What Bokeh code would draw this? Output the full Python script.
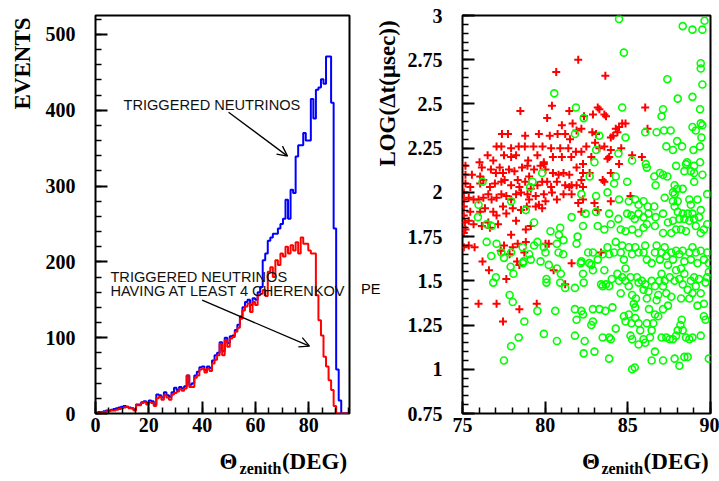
import math
from bokeh.plotting import figure
from bokeh.layouts import row
from bokeh.models import (Label, Arrow, OpenHead, FixedTicker, Range1d, NumeralTickFormatter,
                          LinearAxis)
from bokeh.embed import file_html
from bokeh.resources import INLINE

# ---------------- data: left histogram (bin width 0.95 deg, 100 bins) ----------------
bin_width = 0.95
blue_counts = [1, 2, 2, 3, 4, 4, 5, 6, 7, 8,
               9, 10, 9, 8, 7, 5, 12, 12, 15, 16,
               14, 17, 16, 12, 25, 24, 21, 28, 24, 22,
               28, 34, 31, 35, 33, 36, 50, 38, 40, 50,
               55, 61, 62, 57, 62, 60, 70, 77, 80, 94,
               82, 100, 93, 102, 103, 110, 117, 128, 140, 147,
               150, 143, 152, 150, 160, 167, 202, 211, 228, 232,
               237, 237, 244, 250, 257, 282, 257, 295, 291, 339,
               354, 354, 370, 360, 360, 415, 389, 427, 430, 441,
               435, 471, 471, 410, 244, 58, 17, 0, 0, 0]
red_counts = [1, 1, 2, 2, 3, 3, 4, 4, 5, 6,
              7, 8, 9, 7, 7, 4, 11, 11, 14, 15,
              12, 15, 14, 10, 20, 22, 18, 24, 21, 18,
              25, 27, 29, 32, 30, 33, 50, 35, 35, 47,
              50, 58, 59, 54, 59, 56, 66, 71, 77, 92,
              77, 97, 88, 99, 101, 108, 113, 125, 136, 141,
              145, 134, 147, 143, 156, 158, 163, 155, 187, 193,
              180, 202, 196, 211, 207, 220, 211, 222, 215, 226,
              211, 232, 224, 224, 215, 211, 211, 156, 123, 103,
              75, 62, 44, 31, 10, 0, 0, 0, 0, 0]
hist_x_ticks = [0, 20, 40, 60, 80]
hist_y_ticks = [0, 100, 200, 300, 400, 500]

# ---------------- data: right scatter ----------------
red_theta = [82.00, 80.67, 83.64, 80.41, 78.50, 80.12, 81.01, 81.66, 83.18, 83.28,
             83.58, 83.68, 86.05, 86.19, 82.89, 82.35, 84.27, 84.47, 84.66, 84.86,
             77.39, 77.75, 78.79, 79.62, 80.28, 80.75, 81.21, 81.90, 82.19, 82.85,
             83.08, 83.97, 84.11, 84.37, 81.50, 83.02, 77.06, 77.35, 77.94, 78.40,
             78.77, 79.29, 79.84, 80.36, 80.91, 81.40, 81.86, 82.19, 82.49, 83.28,
             83.58, 83.97, 83.87, 85.26, 85.85, 76.52, 77.51, 76.86, 77.94, 78.24,
             78.97, 79.53, 79.92, 80.47, 81.01, 81.58, 82.29, 82.79, 83.77, 84.47,
             76.03, 76.17, 75.18, 75.18, 75.57, 76.07, 76.72, 77.02, 77.25, 77.45,
             77.81, 78.14, 78.60, 78.93, 79.03, 79.33, 79.72, 79.92, 80.02, 80.47,
             80.81, 81.11, 81.46, 81.90, 82.29, 82.69, 83.97, 83.48, 83.58, 75.18,
             75.47, 76.07, 76.26, 76.66, 76.96, 77.35, 77.55, 77.94, 78.34, 78.44,
             78.79, 79.13, 79.53, 79.82, 80.12, 80.36, 80.71, 81.21, 81.46, 81.60,
             81.90, 82.19, 82.29, 75.08, 75.08, 75.38, 75.67, 75.97, 76.26, 76.56,
             76.76, 77.06, 77.35, 77.65, 77.94, 78.24, 78.54, 78.93, 79.03, 79.43,
             79.92, 80.02, 80.41, 80.71, 81.11, 81.60, 82.00, 82.29, 82.98, 83.18,
             83.97, 82.19, 75.08, 75.08, 75.47, 76.07, 76.36, 76.86, 77.06, 77.45,
             77.65, 78.04, 78.54, 78.89, 79.43, 79.62, 79.82, 75.14, 75.38, 75.67,
             76.17, 76.56, 76.66, 77.15, 77.94, 78.83, 79.13, 78.24, 75.08, 75.18,
             75.08, 75.38, 75.73, 76.21, 76.60, 77.31, 77.51, 77.85, 78.04, 78.30,
             78.34, 78.44, 78.74, 78.83, 80.02, 80.22, 80.51, 81.60, 81.21, 83.38,
             77.65, 75.97, 77.06, 78.44, 79.49, 77.45, 84.60, 85.16, 81.46]
red_logdt = [2.75, 2.68, 2.66, 2.49, 2.46, 2.42, 2.38, 2.39, 2.48, 2.47,
             2.44, 2.43, 2.48, 2.36, 2.44, 2.43, 2.36, 2.37, 2.39, 2.39,
             2.33, 2.33, 2.32, 2.33, 2.32, 2.33, 2.33, 2.35, 2.36, 2.34,
             2.33, 2.31, 2.32, 2.34, 2.30, 2.28, 2.26, 2.26, 2.25, 2.26,
             2.26, 2.26, 2.26, 2.25, 2.25, 2.25, 2.23, 2.23, 2.26, 2.25,
             2.26, 2.24, 2.20, 2.21, 2.20, 2.21, 2.21, 2.18, 2.20, 2.21,
             2.18, 2.21, 2.17, 2.20, 2.20, 2.20, 2.16, 2.20, 2.19, 2.16,
             2.17, 2.14, 2.15, 2.10, 2.10, 2.09, 2.13, 2.11, 2.14, 2.11,
             2.13, 2.12, 2.14, 2.15, 2.09, 2.13, 2.15, 2.16, 2.13, 2.11,
             2.10, 2.11, 2.10, 2.14, 2.11, 2.11, 2.11, 2.07, 2.06, 2.05,
             2.03, 2.05, 2.07, 2.03, 2.05, 2.06, 2.07, 2.04, 2.07, 2.03,
             2.06, 2.02, 2.04, 2.06, 2.06, 2.03, 2.06, 2.04, 2.03, 2.04,
             2.04, 2.07, 2.03, 2.00, 1.96, 1.97, 1.96, 1.96, 1.97, 1.99,
             1.96, 1.97, 1.99, 1.98, 1.96, 1.99, 2.00, 1.99, 1.96, 1.98,
             1.99, 1.95, 2.00, 1.96, 1.99, 1.99, 1.94, 1.96, 1.94, 1.90,
             1.95, 1.89, 1.92, 1.87, 1.89, 1.89, 1.91, 1.89, 1.87, 1.92,
             1.88, 1.91, 1.90, 1.92, 1.92, 1.93, 1.91, 1.83, 1.84, 1.82,
             1.81, 1.83, 1.80, 1.82, 1.76, 1.79, 1.81, 1.84, 1.77, 1.79,
             1.69, 1.70, 1.69, 1.61, 1.56, 1.67, 1.70, 1.65, 1.69, 1.61,
             1.71, 1.59, 1.66, 1.72, 1.71, 1.71, 1.56, 1.60, 1.48, 1.66,
             1.51, 1.37, 1.37, 1.34, 1.37, 1.27, 2.25, 1.98, 2.46]
green_theta = [84.47, 84.76, 88.32, 88.91, 89.64, 89.51, 89.41, 89.41, 89.51, 87.39,
               80.55, 88.02, 88.91, 81.86, 82.33, 84.66, 87.04, 87.13, 89.37, 89.41,
               89.51, 81.80, 83.28, 84.86, 86.05, 86.74, 87.19, 87.59, 88.91, 89.11,
               89.45, 87.33, 87.73, 87.98, 88.28, 88.97, 89.37, 83.08, 84.43, 82.98,
               85.26, 86.09, 86.15, 88.52, 89.01, 89.37, 79.82, 82.69, 84.27, 86.60,
               86.94, 87.13, 87.39, 87.92, 88.42, 89.01, 89.51, 89.01, 76.21, 79.23,
               84.17, 84.96, 86.68, 87.83, 87.98, 88.32, 87.73, 87.83, 87.23, 79.09,
               83.08, 82.19, 83.77, 84.47, 85.06, 85.45, 85.65, 85.95, 86.21, 86.60,
               87.73, 87.83, 88.02, 88.72, 88.81, 89.21, 89.80, 77.94, 78.83, 75.97,
               81.60, 82.45, 83.08, 83.87, 84.43, 84.96, 85.22, 85.42, 85.65, 85.95,
               86.25, 86.15, 86.68, 87.13, 87.43, 87.73, 88.02, 88.12, 88.32, 88.42,
               88.62, 88.72, 88.91, 89.01, 89.31, 89.41, 89.80, 89.60, 75.93, 76.46,
               79.33, 76.76, 80.32, 80.91, 82.29, 83.18, 83.58, 83.97, 84.57, 84.86,
               85.26, 85.65, 85.95, 86.64, 87.13, 87.63, 87.92, 88.22, 88.52, 89.11,
               89.41, 76.46, 77.06, 77.35, 77.51, 77.94, 78.64, 78.70, 79.03, 79.33,
               79.53, 79.92, 80.02, 80.71, 80.81, 81.11, 76.74, 77.02, 76.86, 77.91,
               78.08, 78.64, 79.13, 79.72, 80.22, 80.08, 80.08, 80.71, 80.91, 80.95,
               81.21, 81.80, 81.90, 82.19, 82.29, 82.33, 82.79, 82.89, 82.89, 83.18,
               83.48, 83.58, 83.77, 83.87, 84.17, 84.27, 84.57, 84.66, 84.76, 84.86,
               85.06, 85.26, 85.45, 85.65, 85.95, 86.05, 86.15, 86.44, 86.64, 86.74,
               86.94, 87.04, 87.23, 87.33, 87.43, 87.63, 87.73, 87.92, 88.12, 88.22,
               88.32, 88.42, 88.72, 88.81, 88.91, 89.11, 89.21, 89.41, 89.60, 89.80,
               89.90, 83.38, 83.48, 83.68, 83.87, 84.03, 84.37, 84.47, 84.57, 84.66,
               84.86, 85.06, 85.16, 85.26, 85.36, 85.45, 85.49, 85.55, 85.65, 85.85,
               85.95, 86.05, 86.15, 86.25, 86.28, 86.44, 86.64, 86.74, 86.84, 86.90,
               87.04, 87.13, 87.23, 87.33, 87.43, 87.53, 87.63, 87.83, 87.92, 88.12,
               88.22, 88.32, 88.42, 88.62, 88.72, 88.81, 88.91, 89.01, 89.11, 89.21,
               89.31, 89.41, 89.60, 89.70, 89.80, 89.90, 82.19, 81.80, 82.29, 81.90,
               82.89, 82.79, 83.28, 83.64, 84.07, 84.27, 83.97, 83.48, 83.87, 82.98,
               82.33, 82.89, 84.76, 84.86, 85.06, 85.22, 85.45, 85.65, 85.75, 85.95,
               86.05, 86.15, 86.34, 86.44, 86.54, 86.64, 86.84, 87.04, 87.13, 87.33,
               87.53, 87.73, 87.92, 88.02, 88.18, 88.26, 88.32, 88.52, 88.72, 88.91,
               89.41, 89.60, 89.70, 85.16, 85.26, 85.65, 83.87, 85.26, 85.42, 86.44,
               86.64, 87.13, 87.83, 88.12, 88.42, 88.62, 89.90, 79.53, 78.74, 78.40,
               77.94, 77.51, 80.61, 80.71, 79.92, 81.80, 77.85, 78.04, 82.39, 82.60,
               82.15, 81.96, 80.83, 81.09, 82.67, 88.58, 88.81]
green_logdt = [2.98, 2.79, 2.94, 2.92, 2.97, 2.92, 2.73, 2.70, 2.61, 2.64,
               2.56, 2.53, 2.54, 2.48, 2.42, 2.48, 2.43, 2.47, 2.47, 2.39,
               2.38, 2.33, 2.32, 2.31, 2.34, 2.34, 2.35, 2.35, 2.37, 2.35,
               2.31, 2.26, 2.24, 2.29, 2.26, 2.24, 2.26, 2.24, 2.22, 2.17,
               2.18, 2.16, 2.14, 2.16, 2.15, 2.17, 2.11, 2.09, 2.09, 2.09,
               2.11, 2.10, 2.09, 2.15, 2.12, 2.11, 2.10, 2.06, 2.06, 2.06,
               2.05, 2.06, 2.04, 2.04, 2.02, 2.02, 2.00, 1.99, 1.97, 2.03,
               1.98, 1.99, 2.00, 1.96, 1.95, 1.96, 1.93, 1.95, 1.92, 1.92,
               1.95, 1.92, 1.95, 1.96, 1.93, 1.96, 1.99, 1.95, 1.90, 1.93,
               1.86, 1.88, 1.89, 1.88, 1.85, 1.88, 1.87, 1.85, 1.88, 1.86,
               1.88, 1.82, 1.86, 1.88, 1.83, 1.84, 1.89, 1.85, 1.88, 1.85,
               1.88, 1.84, 1.88, 1.85, 1.86, 1.90, 1.82, 1.79, 1.86, 1.82,
               1.83, 1.81, 1.78, 1.80, 1.81, 1.81, 1.79, 1.82, 1.79, 1.78,
               1.79, 1.77, 1.80, 1.81, 1.77, 1.77, 1.79, 1.79, 1.78, 1.81,
               1.77, 1.72, 1.71, 1.66, 1.63, 1.66, 1.69, 1.61, 1.65, 1.70,
               1.72, 1.69, 1.66, 1.71, 1.66, 1.73, 1.64, 1.52, 1.49, 1.58,
               1.54, 1.60, 1.62, 1.61, 1.59, 1.51, 1.49, 1.57, 1.49, 1.54,
               1.46, 1.46, 1.71, 1.61, 1.54, 1.49, 1.59, 1.56, 1.66, 1.62,
               1.65, 1.56, 1.69, 1.65, 1.66, 1.72, 1.66, 1.70, 1.62, 1.57,
               1.69, 1.65, 1.69, 1.66, 1.66, 1.70, 1.62, 1.60, 1.66, 1.70,
               1.62, 1.66, 1.69, 1.64, 1.59, 1.66, 1.62, 1.67, 1.65, 1.57,
               1.67, 1.61, 1.66, 1.62, 1.69, 1.66, 1.60, 1.67, 1.62, 1.66,
               1.60, 1.48, 1.47, 1.48, 1.47, 1.51, 1.54, 1.50, 1.43, 1.52,
               1.50, 1.47, 1.52, 1.42, 1.37, 1.35, 1.40, 1.52, 1.49, 1.50,
               1.45, 1.48, 1.40, 1.44, 1.34, 1.50, 1.47, 1.39, 1.42, 1.50,
               1.54, 1.47, 1.50, 1.43, 1.36, 1.52, 1.41, 1.50, 1.56, 1.51,
               1.40, 1.48, 1.54, 1.45, 1.40, 1.50, 1.43, 1.52, 1.47, 1.36,
               1.51, 1.43, 1.37, 1.49, 1.52, 1.55, 1.33, 1.34, 1.31, 1.28,
               1.34, 1.25, 1.34, 1.33, 1.35, 1.23, 1.17, 1.18, 1.18, 1.10,
               1.09, 1.27, 1.30, 1.27, 1.31, 1.26, 1.29, 1.26, 1.22, 1.17,
               1.15, 1.26, 1.18, 1.22, 1.26, 1.31, 1.30, 1.18, 1.34, 1.18,
               1.17, 1.17, 1.19, 1.22, 1.25, 1.28, 1.22, 1.18, 1.17, 1.18,
               1.19, 1.30, 1.28, 1.19, 1.17, 1.14, 1.06, 1.00, 1.01, 1.05,
               1.10, 1.05, 1.06, 1.02, 1.07, 1.07, 1.06, 1.33, 1.27, 1.18,
               1.13, 1.05, 1.33, 1.16, 1.20, 1.19, 1.42, 1.38, 1.16, 1.66,
               1.60, 1.75, 1.76, 1.65, 1.60, 2.17, 2.12]
scatter_x_ticks = [75, 80, 85, 90]
scatter_y_ticks = [0.75, 1.0, 1.25, 1.5, 1.75, 2.0, 2.25, 2.5, 2.75, 3.0]

SERIF = "Liberation Serif"
SANS = "Liberation Sans"
H = 481


def style(p, xt, xminor, yt, yminor):
    p.xaxis.ticker = FixedTicker(ticks=xt, minor_ticks=xminor)
    p.yaxis.ticker = FixedTicker(ticks=yt, minor_ticks=yminor)
    for ax in (p.xaxis[0], p.yaxis[0]):
        ax.axis_line_color = None
        ax.major_tick_in = 12
        ax.major_tick_out = 0
        ax.minor_tick_in = 6
        ax.minor_tick_out = 0
        ax.major_tick_line_width = 2
        ax.minor_tick_line_width = 1.5
        ax.major_tick_line_color = "black"
        ax.minor_tick_line_color = "black"
        ax.major_label_text_font = SERIF
        ax.major_label_text_font_style = "bold"
        ax.major_label_text_font_size = "20px"
        ax.major_label_text_color = "black"
    p.xaxis.major_label_standoff = 4
    p.yaxis.major_label_standoff = 20
    p.xgrid.visible = False
    p.ygrid.visible = False
    p.outline_line_color = "black"
    p.outline_line_width = 2
    p.outline_line_alpha = 1.0
    p.background_fill_color = "white"
    p.border_fill_color = "white"


def text_axis(p, side, labels, size, standoff, font=SERIF, bold=True, orientation="horizontal"):
    """A tick-less axis used only to place real text in a side panel (pixel ranges)."""
    if side in ("below", "above"):
        ax = LinearAxis(x_range_name="px")
    else:
        ax = LinearAxis(y_range_name="py")
    ax.ticker = FixedTicker(ticks=list(labels.keys()), minor_ticks=[])
    ax.major_label_overrides = labels
    ax.axis_line_color = None
    ax.major_tick_line_color = None
    ax.minor_tick_line_color = None
    ax.major_tick_in = 0
    ax.major_tick_out = 0
    ax.minor_tick_in = 0
    ax.minor_tick_out = 0
    ax.major_label_standoff = standoff
    ax.major_label_orientation = orientation
    ax.major_label_text_font = font
    ax.major_label_text_font_style = "bold" if bold else "normal"
    ax.major_label_text_font_size = size
    ax.major_label_text_color = "black"
    p.add_layout(ax, side)


def note(p, x, y, text):
    p.add_layout(Label(x=x, y=y, text=text, text_font=SANS, text_font_size="14.6px",
                       text_color="#111111", text_baseline="alphabetic"))


# ---------------- left figure ----------------
p1 = figure(width=358, height=H, x_range=Range1d(0, 95.25), y_range=Range1d(0, 525),
            output_backend="svg", toolbar_location=None,
            min_border_left=95, min_border_right=9, min_border_top=15, min_border_bottom=H - 413)
p1.extra_x_ranges = {"px": Range1d(0, 254)}
p1.extra_y_ranges = {"py": Range1d(0, 398)}
style(p1, hist_x_ticks, list(range(0, 96, 5)), hist_y_ticks, list(range(0, 521, 20)))

edges = [i * bin_width for i in range(len(blue_counts) + 1)]
p1.step(x=edges, y=blue_counts + [blue_counts[-1]], mode="after",
        line_color="#0000ff", line_width=2)
p1.step(x=edges, y=red_counts + [red_counts[-1]], mode="after",
        line_color="#ff0000", line_width=2)

note(p1, 10.5, 407.6, "TRIGGERED NEUTRINOS")
note(p1, 5.6, 179.8, "TRIGGERED NEUTRINOS")
note(p1, 5.6, 161.3, "HAVING AT LEAST 4 CHERENKOV")
p1.add_layout(Arrow(end=OpenHead(size=10, line_width=1.3, line_color="black"),
                    x_start=49.9, y_start=397.5, x_end=72.0, y_end=339.5,
                    line_width=1.3, line_color="black"))
p1.add_layout(Arrow(end=OpenHead(size=10, line_width=1.3, line_color="black"),
                    x_start=40.0, y_start=149.5, x_end=80.25, y_end=88.8,
                    line_width=1.3, line_color="black"))

text_axis(p1, "left", {350: "EVENTS"}, "23px", 8, orientation="vertical")
text_axis(p1, "below", {133: "\u0398", 219: "(DEG)"}, "23px", 14)
text_axis(p1, "below", {165: "zenith"}, "16px", -17)

# ---------------- right figure ----------------
p2 = figure(width=361, height=H, x_range=Range1d(75, 90), y_range=Range1d(0.75, 3.0),
            output_backend="svg", toolbar_location=None,
            min_border_left=99, min_border_right=9, min_border_top=15, min_border_bottom=H - 413)
p2.extra_x_ranges = {"px": Range1d(0, 253)}
p2.extra_y_ranges = {"py": Range1d(0, 398)}
style(p2, scatter_x_ticks, list(range(75, 91)), scatter_y_ticks,
      [0.75 + 0.05 * i for i in range(46)])
p2.yaxis.formatter = NumeralTickFormatter(format="0.[00]")

p2.scatter(red_theta, red_logdt, marker="cross", size=8,
           line_color="#ff0000", line_width=2)
p2.scatter(green_theta, green_logdt, marker="circle", size=7, fill_color=None,
           line_color="#00ff00", line_width=1.6)

text_axis(p2, "left", {320: "LOG(\u0394t(\u03bcsec))"}, "23px", 5, orientation="vertical")
text_axis(p2, "left", {125: "PE"}, "14.6px", -9, font=SANS, bold=False)
text_axis(p2, "below", {131: "\u0398", 218: "(DEG)"}, "23px", 14)
text_axis(p2, "below", {163: "zenith"}, "16px", -17)

layout = row(p1, p2)
open("out.html", "w").write(file_html(layout, INLINE, "plot"))
